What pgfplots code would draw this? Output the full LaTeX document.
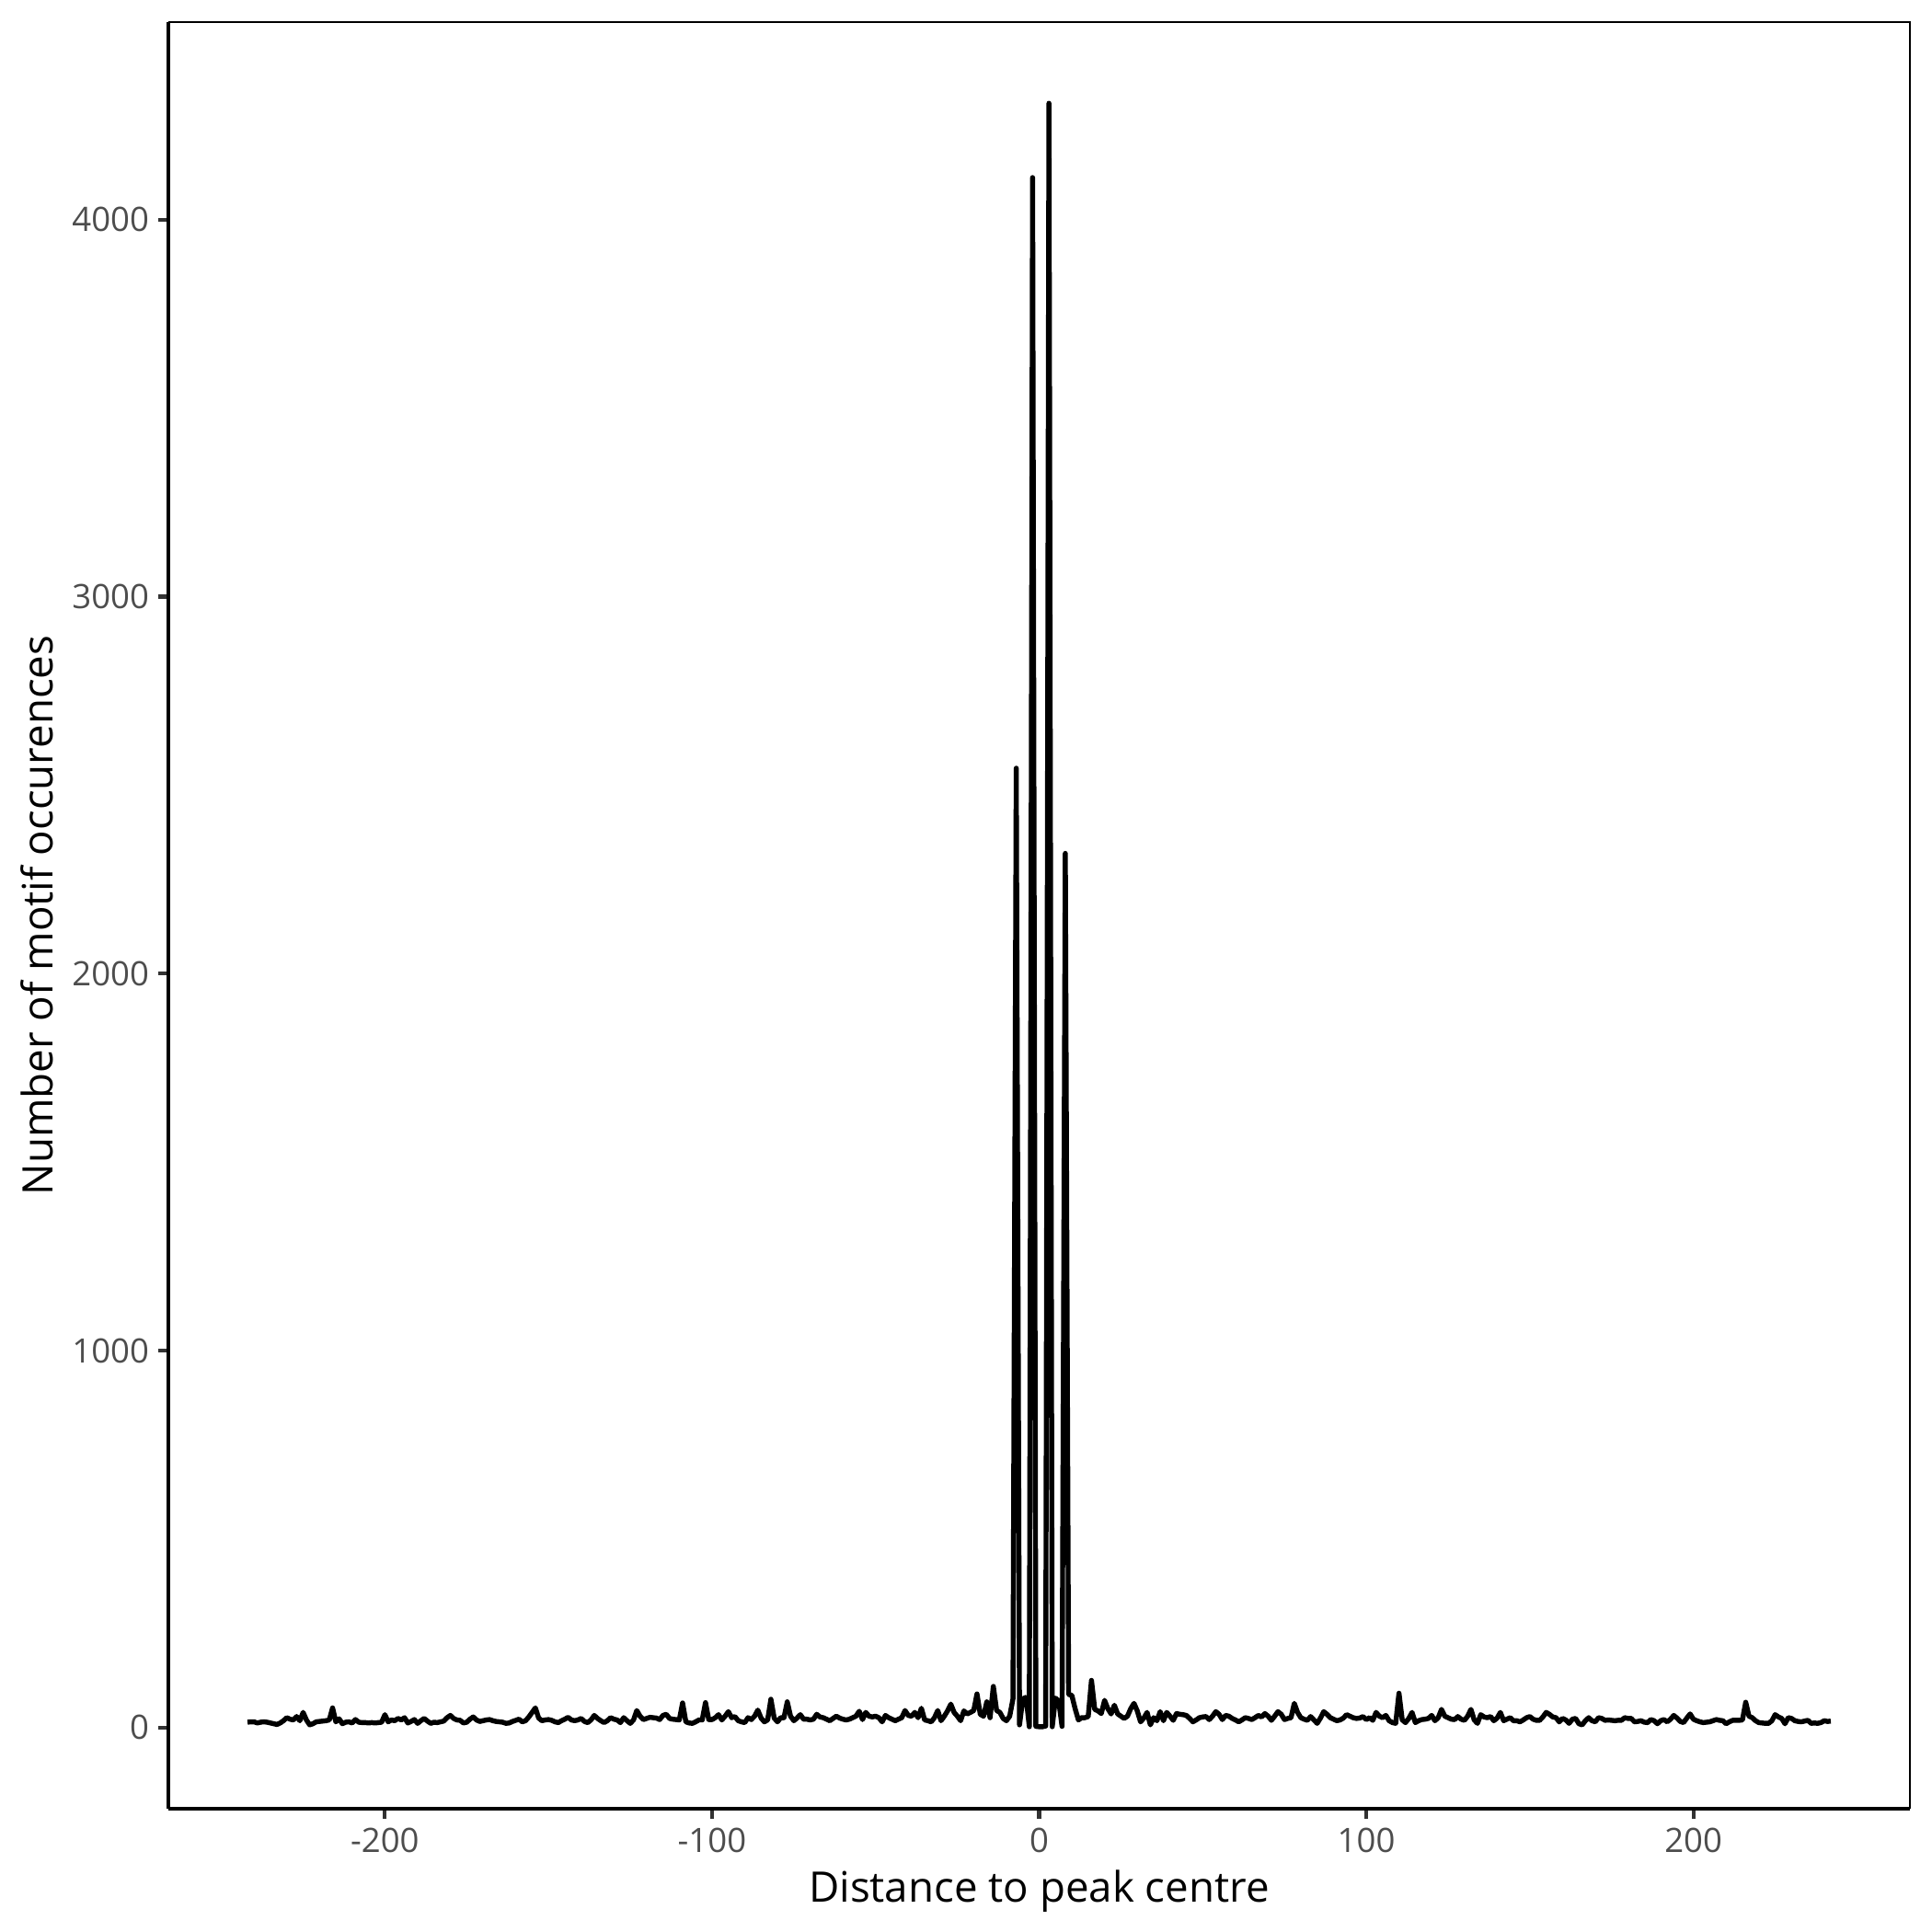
\documentclass[border=0pt]{standalone}
\usepackage{fontspec}
\setmainfont{Open Sans}
\usepackage{pgfplots}
\pgfplotsset{compat=1.18}
\usepackage{pgfplotstable}
\definecolor{ticktext}{HTML}{4D4D4D}
\definecolor{tickmark}{HTML}{333333}

% motif occurrences per position relative to the peak centre
\pgfplotstableread{
pos count
-242 14
-241 15
-240 15
-239 12
-238 14
-237 15
-236 14
-235 12
-234 10
-233 8
-232 12
-231 18
-230 26
-229 22
-228 20
-227 29
-226 18
-225 40
-224 20
-223 7
-222 10
-221 15
-220 16
-219 17
-218 18
-217 20
-216 52
-215 15
-214 23
-213 10
-212 14
-211 15
-210 12
-209 21
-208 14
-207 13
-206 13
-205 12
-204 13
-203 12
-202 13
-201 14
-200 34
-199 15
-198 20
-197 18
-196 24
-195 20
-194 26
-193 12
-192 16
-191 21
-190 11
-189 18
-188 24
-187 17
-186 11
-185 14
-184 13
-183 15
-182 17
-181 26
-180 32
-179 24
-178 20
-177 19
-176 12
-175 14
-174 22
-173 28
-172 20
-171 16
-170 18
-169 20
-168 21
-167 18
-166 16
-165 15
-164 14
-163 11
-162 12
-161 16
-160 19
-159 22
-158 15
-157 18
-156 28
-155 40
-154 52
-153 25
-152 18
-151 20
-150 21
-149 19
-148 15
-147 13
-146 18
-145 22
-144 27
-143 20
-142 18
-141 20
-140 24
-139 16
-138 13
-137 20
-136 32
-135 24
-134 18
-133 13
-132 18
-131 26
-130 22
-129 20
-128 13
-127 26
-126 18
-125 11
-124 20
-123 45
-122 30
-121 21
-120 24
-119 27
-118 26
-117 25
-116 21
-115 32
-114 35
-113 24
-112 22
-111 21
-110 20
-109 65
-108 15
-107 12
-106 11
-105 15
-104 20
-103 20
-102 66
-101 21
-100 21
-99 26
-98 34
-97 20
-96 30
-95 42
-94 26
-93 29
-92 18
-91 15
-90 13
-89 26
-88 21
-87 30
-86 46
-85 25
-84 15
-83 20
-82 75
-81 25
-80 15
-79 26
-78 26
-77 68
-76 30
-75 18
-74 25
-73 34
-72 22
-71 22
-70 20
-69 22
-68 35
-67 28
-66 26
-65 22
-64 18
-63 24
-62 30
-61 25
-60 22
-59 20
-58 22
-57 26
-56 30
-55 43
-54 21
-53 40
-52 30
-51 28
-50 30
-49 26
-48 15
-47 32
-46 26
-45 22
-44 18
-43 22
-42 26
-41 45
-40 32
-39 30
-38 40
-37 26
-36 51
-35 20
-34 18
-33 15
-32 26
-31 45
-30 18
-29 30
-28 44
-27 62
-26 40
-25 30
-24 18
-23 44
-22 36
-21 40
-20 45
-19 89
-18 35
-17 30
-16 68
-15 26
-14 109
-13 45
-12 40
-11 24
-10 18
-9 30
-8 76
-7 2545
-6 7
-5 76
-4 80
-3 2
-2 4112
-1 3
0 2
1 2
2 4
3 4309
4 2
5 78
6 70
7 3
8 2319
9 88
10 85
11 50
12 20
13 26
14 26
15 29
16 125
17 48
18 44
19 37
20 72
21 50
22 36
23 59
24 36
25 30
26 24
27 30
28 50
29 64
30 44
31 15
32 25
33 40
34 7
35 26
36 18
37 42
38 18
39 40
40 30
41 19
42 37
43 35
44 34
45 32
46 24
47 15
48 20
49 26
50 28
51 29
52 21
53 30
54 42
55 35
56 21
57 32
58 30
59 24
60 20
61 15
62 20
63 26
64 24
65 21
66 26
67 32
68 28
69 37
70 30
71 19
72 30
73 42
74 35
75 21
76 24
77 26
78 64
79 40
80 26
81 22
82 19
83 29
84 20
85 11
86 25
87 42
88 35
89 26
90 22
91 18
92 20
93 25
94 34
95 30
96 26
97 24
98 25
99 29
100 21
101 26
102 19
103 40
104 30
105 26
106 32
107 18
108 13
109 11
110 91
111 20
112 13
113 24
114 40
115 13
116 18
117 21
118 22
119 24
120 32
121 18
122 26
123 48
124 30
125 26
126 22
127 21
128 29
129 22
130 19
131 30
132 48
133 20
134 11
135 34
136 28
137 26
138 29
139 18
140 25
141 40
142 18
143 22
144 26
145 18
146 18
147 15
148 20
149 26
150 29
151 22
152 19
153 19
154 28
155 40
156 35
157 28
158 26
159 15
160 24
161 20
162 11
163 22
164 24
165 10
166 7
167 18
168 26
169 18
170 15
171 26
172 24
173 19
174 20
175 19
176 18
177 19
178 19
179 26
180 24
181 24
182 15
183 16
184 18
185 14
186 13
187 21
188 18
189 10
190 18
191 21
192 15
193 22
194 32
195 25
196 16
197 13
198 25
199 36
200 22
201 18
202 15
203 13
204 14
205 15
206 18
207 21
208 19
209 18
210 10
211 15
212 19
213 19
214 19
215 20
216 67
217 30
218 26
219 18
220 13
221 12
222 11
223 11
224 18
225 34
226 28
227 24
228 10
229 26
230 24
231 18
232 16
233 15
234 17
235 19
236 11
237 12
238 11
239 13
240 18
241 16
242 17
}\motifs

\begin{document}
\begin{tikzpicture}
\path[use as bounding box] (0,0) rectangle (504bp,504bp);
\begin{axis}[
    at={(43.92bp,32.16bp)}, anchor=south west,
    scale only axis,
    width=454.32bp, height=466.08bp,
    xmin=-266.2, xmax=266.2,
    ymin=-215.5, ymax=4524.5,
    axis x line*=bottom, axis y line*=left,
    axis line style={line width=1.1bp, black},
    tick align=outside,
    major tick length=2.64bp,
    tick style={line width=1bp, tickmark},
    xtick={-200,-100,0,100,200},
    xticklabels={-200,-100,0,100,200},
    ytick={0,1000,2000,3000,4000},
    yticklabels={0,1000,2000,3000,4000},
    ticklabel style={font=\fontsize{8.8}{10}\selectfont, text=ticktext, inner sep=0pt},
    xticklabel style={anchor=north, yshift=-2.2bp},
    yticklabel style={anchor=east, xshift=-2.2bp},
    xlabel={Distance to peak centre},
    ylabel={Number of motif occurences},
    every axis x label/.style={at={(axis description cs:0.5,0)}, anchor=base,
        yshift=-24.24bp, font=\fontsize{11}{13}\selectfont},
    every axis y label/.style={at={(axis description cs:0,0.5)}, anchor=base,
        rotate=90, yshift=30.1bp, font=\fontsize{11}{13}\selectfont},
    clip=false,
]
\addplot[black, line width=1.3bp, line join=round, mark=none] table[x=pos, y=count] {\motifs};
\draw[black, line width=0.5bp] (rel axis cs:0,1) -- (rel axis cs:1,1) -- (rel axis cs:1,0);
\end{axis}
\end{tikzpicture}
\end{document}
